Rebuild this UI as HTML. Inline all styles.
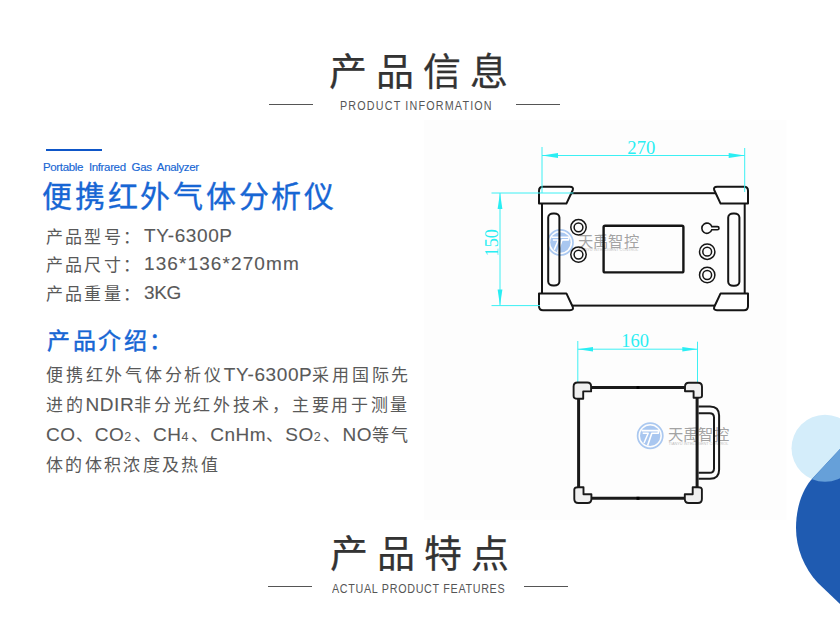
<!DOCTYPE html>
<html lang="zh-CN">
<head>
<meta charset="utf-8">
<style>
html,body{margin:0;padding:0;background:#fff;}
body{width:840px;height:617px;position:relative;overflow:hidden;font-family:"Liberation Sans",sans-serif;}
.a{position:absolute;white-space:nowrap;line-height:1;}
.title{color:#333;font-size:38px;letter-spacing:9px;-webkit-text-stroke:0.25px #333;}
.sub{color:#555;font-size:12px;letter-spacing:0.5px;}
.hl{position:absolute;height:1px;background:#555;}
.blue{color:#1766d4;}
.spec{color:#595959;font-size:17px;letter-spacing:2.2px;}
.l{font-size:19px;line-height:0;letter-spacing:0.6px;position:relative;top:-0.5px;-webkit-text-stroke:0.1px #595959;}
.spec .l{margin-left:2px;}
.l3{letter-spacing:0.5px;}
.sb{font-size:12.5px;}
.para{color:#595959;font-size:17px;letter-spacing:2.35px;}
</style>
</head>
<body>
<!-- Top title -->
<div class="a title" style="left:329px;top:53px;">产品信息</div>
<div class="hl" style="left:269px;top:104px;width:44px;"></div>
<div class="hl" style="left:516px;top:104px;width:44px;"></div>
<div class="a sub" style="left:339.5px;top:100px;font-size:12.5px;letter-spacing:1.37px;transform:scaleX(0.86);transform-origin:0 0;">PRODUCT INFORMATION</div>

<!-- Left block -->
<div style="position:absolute;left:46px;top:149px;width:56px;height:2px;background:#0e56c8;"></div>
<div class="a blue" style="left:43px;top:162px;font-size:11.5px;letter-spacing:-0.35px;word-spacing:3px;-webkit-text-stroke:0.15px #1766d4;">Portable Infrared Gas Analyzer</div>
<div class="a blue" style="left:42px;top:182px;font-size:30px;letter-spacing:2.75px;-webkit-text-stroke:0.35px #1766d4;">便携红外气体分析仪</div>
<div class="a spec" style="left:46px;top:228.5px;">产品型号：<span class="l">TY-6300P</span></div>
<div class="a spec" style="left:46px;top:256.5px;">产品尺寸：<span class="l" style="letter-spacing:1.1px">136*136*270mm</span></div>
<div class="a spec" style="left:46px;top:285.5px;">产品重量：<span class="l" style="letter-spacing:-0.4px">3KG</span></div>
<div class="a blue" style="left:47px;top:330px;font-size:23px;letter-spacing:2.6px;-webkit-text-stroke:0.45px #1766d4;">产品介绍：</div>
<div class="a para" style="left:46px;top:367px;letter-spacing:2.75px;">便携红外气体分析仪<span class="l">TY-6300P</span>采用国际先</div>
<div class="a para" style="left:46px;top:397px;letter-spacing:2.7px;">进的<span class="l">NDIR</span>非分光红外技术，主要用于测量</div>
<div class="a para" style="left:46px;top:427px;"><span class="l l3">CO</span>、<span class="l l3">CO</span><span class="sb">2</span>、<span class="l l3">CH</span><span class="sb">4</span>、<span class="l l3">CnHm</span>、<span class="l l3">SO</span><span class="sb">2</span>、<span class="l l3">NO</span>等气</div>
<div class="a para" style="left:46px;top:457px;">体的体积浓度及热值</div>

<!-- Drawings -->
<svg class="a" style="left:0;top:0" width="840" height="617" viewBox="0 0 840 617">
<defs>
  <g id="logo">
    <circle cx="0" cy="0" r="12.6" fill="none" stroke="#aac8f0" stroke-width="1.7"/>
    <circle cx="0" cy="0" r="10.2" fill="#a9c7f0"/>
    <path d="M-8.5 -5.2 L7.5 -5.2 Q8.6 -5.2 8.4 -4 L8 -2.6 L1.6 -2.6 L-2.6 9.6" fill="none" stroke="#fff" stroke-width="1.6" stroke-linejoin="round"/>
    <path d="M-7.5 -2.6 L-2 -2.6 L-6.2 7.2" fill="none" stroke="#fff" stroke-width="1.5" stroke-linejoin="round"/>
  </g>
  <path id="arrR" d="M0 0 L-16 -2.4 L-16 2.4 Z"/>
</defs>
<rect x="424" y="120" width="362.5" height="400" fill="#fdfdfd"/>
<!-- ===== Drawing 1: front view ===== -->
<!-- watermark 1 -->
<use href="#logo" x="560.4" y="242.5"/>
<text x="578" y="246.5" font-size="15.3" fill="#a3a3a3" letter-spacing="0.2">天禹智控</text>
<text x="578.5" y="251.3" font-size="4" fill="#bdbdbd" textLength="60" lengthAdjust="spacingAndGlyphs">TIANYU INTELLIGENT CONTROL</text>
<!-- body -->
<g stroke="#151515" stroke-width="2" fill="none">
  <rect x="542" y="193.2" width="202.7" height="112.4"/>
  <rect x="548.2" y="213.4" width="11.2" height="72.2" rx="5" ry="4"/>
  <rect x="728.2" y="213.4" width="11.2" height="72.4" rx="5" ry="4"/>
  <rect x="603.6" y="225.8" width="79.8" height="46.6" rx="1.5" stroke-width="2.4"/>
  <circle cx="578.5" cy="227.3" r="7.7" stroke-width="1.5"/>
  <circle cx="578.5" cy="227.3" r="4.4" stroke-width="1.5"/>
  <circle cx="578.5" cy="254.6" r="7.7" stroke-width="1.5"/>
  <circle cx="578.5" cy="254.6" r="4.4" stroke-width="1.5"/>
  <circle cx="707.2" cy="251.7" r="7.7" stroke-width="1.5"/>
  <circle cx="707.2" cy="251.7" r="4.4" stroke-width="1.5"/>
  <circle cx="707.2" cy="275" r="7.7" stroke-width="1.5"/>
  <circle cx="707.2" cy="275" r="4.4" stroke-width="1.5"/>
  <path d="M711.8 226.6 A5.1 5.1 0 1 0 711.8 229.8 L717.4 229.8 A1.6 1.6 0 0 0 717.4 226.6 Z" stroke-width="1.6"/>
</g>
<g stroke="#151515" stroke-width="2" fill="#fff" stroke-linejoin="round">
  <path d="M539 203.6 L539 190.8 Q539 186.8 543 186.8 L570 186.8 Q573.8 186.8 572.8 190 L566.4 203.6 Z"/>
  <path d="M748 203.6 L748 190.8 Q748 186.8 744 186.8 L717 186.8 Q713.2 186.8 714.2 190 L720.6 203.6 Z"/>
  <path d="M539 293.4 L539 306.2 Q539 310.2 543 310.2 L570 310.2 Q573.8 310.2 572.8 307 L566.4 293.4 Z"/>
  <path d="M748 293.4 L748 306.2 Q748 310.2 744 310.2 L717 310.2 Q713.2 310.2 714.2 307 L720.6 293.4 Z"/>
</g>
<!-- cyan dims -->
<g stroke="#3cf0f4" stroke-width="1" fill="none">
  <line x1="542" y1="147" x2="542" y2="193"/>
  <line x1="744.7" y1="148" x2="744.7" y2="192"/>
  <line x1="542" y1="155.5" x2="744.7" y2="155.5"/>
  <line x1="491.5" y1="193" x2="573.5" y2="193"/>
  <line x1="491.5" y1="305.6" x2="540" y2="305.6"/>
  <line x1="500" y1="193" x2="500" y2="305.6"/>
</g>
<g fill="#2aeef3">
  <path d="M542 155.5 L558 153.1 L558 157.9 Z"/>
  <path d="M744.7 155.5 L728.7 153.1 L728.7 157.9 Z"/>
  <path d="M500 193 L497.6 209 L502.4 209 Z"/>
  <path d="M500 305.6 L497.6 289.6 L502.4 289.6 Z"/>
</g>
<text x="627.3" y="153.6" font-family="Liberation Serif" font-size="19.5" fill="#2aeef3" textLength="28" lengthAdjust="spacingAndGlyphs">270</text>
<text transform="translate(498.2 256.5) rotate(-90)" font-family="Liberation Serif" font-size="19.5" fill="#2aeef3" textLength="27.4" lengthAdjust="spacingAndGlyphs">150</text>
<!-- ===== Drawing 2: side view ===== -->
<use href="#logo" x="650.2" y="435.8"/>
<text x="668" y="439.8" font-size="15.3" fill="#a3a3a3" letter-spacing="0.2">天禹智控</text>
<text x="668.5" y="444.6" font-size="4" fill="#bdbdbd" textLength="60" lengthAdjust="spacingAndGlyphs">TIANYU INTELLIGENT CONTROL</text>
<g stroke="#3cf0f4" stroke-width="1" fill="none">
  <line x1="577.8" y1="341" x2="577.8" y2="382"/>
  <line x1="697.5" y1="341.7" x2="697.5" y2="382"/>
  <line x1="577.8" y1="349.2" x2="697.5" y2="349.2"/>
</g>
<g fill="#2aeef3">
  <path d="M577.8 349.2 L593 346.9 L593 351.5 Z"/>
  <path d="M697.5 349.2 L682.3 346.9 L682.3 351.5 Z"/>
</g>
<text x="621.3" y="347.2" font-family="Liberation Serif" font-size="19" fill="#2aeef3" textLength="27.6" lengthAdjust="spacingAndGlyphs">160</text>
<g stroke="#1a1a1a" stroke-width="3" fill="none">
  <line x1="590" y1="387.5" x2="686" y2="387.5"/>
  <line x1="590" y1="498.3" x2="686" y2="498.3"/>
  <line x1="578.6" y1="397" x2="578.6" y2="488"/>
  <line x1="697.1" y1="397" x2="697.1" y2="488"/>
</g>
<g stroke="#1a1a1a" stroke-width="2" fill="none">
  <path d="M698.5 406.5 L710 406.5 Q719.1 406.5 719.1 415.6 L719.1 469.7 Q719.1 478.8 710 478.8 L698.5 478.8"/>
  <path d="M698.5 413.2 L709.6 413.2 Q714 413.2 714 417.6 L714 468.4 Q714 472.8 709.6 472.8 L698.5 472.8"/>
</g>
<g stroke="#1a1a1a" stroke-width="1.9" fill="#f0f0f0" stroke-linejoin="round">
  <path d="M573.6 396 L573.6 386.5 Q573.6 382.5 577.6 382.5 L587.3 382.5 Q591.1 382.5 591.1 386.5 L591.1 391.4 L583.2 391.4 L583.2 398.8 L577.6 398.8 Q573.6 398.8 573.6 396 Z"/>
  <path d="M702 396 L702 386.8 Q702 382.8 698 382.8 L688.8 382.8 Q685 382.8 685 386.8 L685 391.3 L693.6 391.3 L693.6 397.8 L698 397.8 Q702 397.8 702 396 Z"/>
  <path d="M574.3 489.6 L574.3 499 Q574.3 503 578.3 503 L587.5 503 Q591.4 503 591.4 499 L591.4 494.2 L583.5 494.2 L583.5 487.2 L578.3 487.2 Q574.3 487.2 574.3 489.6 Z"/>
  <path d="M701.9 489.6 L701.9 499 Q701.9 503 697.9 503 L688.7 503 Q684.8 503 684.8 499 L684.8 494.2 L692.7 494.2 L692.7 487.2 L697.9 487.2 Q701.9 487.2 701.9 489.6 Z"/>
</g>
<rect x="636.5" y="386" width="3" height="3" fill="#000"/>
<rect x="636.5" y="496.8" width="3" height="3" fill="#000"/>
</svg>

<!-- Bottom title -->
<div class="a title" style="left:329.5px;top:534.5px;">产品特点</div>
<div class="hl" style="left:268px;top:586px;width:44px;"></div>
<div class="hl" style="left:524px;top:586px;width:44px;"></div>
<div class="a sub" style="left:332px;top:582.7px;font-size:12.5px;letter-spacing:0.8px;transform:scaleX(0.86);transform-origin:0 0;">ACTUAL PRODUCT FEATURES</div>

<!-- Decorative shapes -->
<svg class="a" style="left:780px;top:400px" width="60" height="217" viewBox="780 400 60 217">
  <defs><clipPath id="dc"><path d="M840 449 L811 480 C801 492 796 510 796 528 C796 548 804 568 818 583 L840 604 Z"/></clipPath></defs>
  <circle cx="825" cy="448.2" r="33.5" fill="#d4edfa"/>
  <path d="M840 449 L811 480 C801 492 796 510 796 528 C796 548 804 568 818 583 L840 604 Z" fill="#1f5bb1"/>
  <circle cx="825" cy="448.2" r="33.5" fill="#66a0d9" clip-path="url(#dc)"/>
</svg>
</body>
</html>
